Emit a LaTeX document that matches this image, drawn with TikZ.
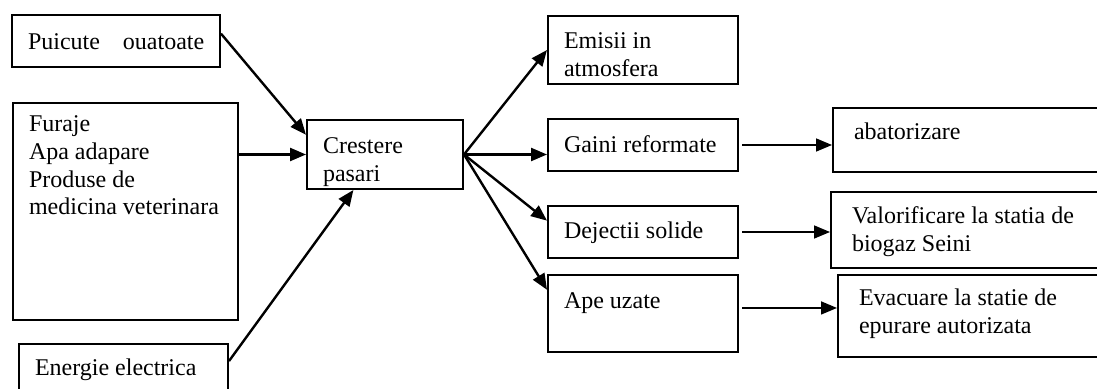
\documentclass[tikz,border=0pt]{standalone}
\usepackage{fontspec}
\setmainfont{Liberation Serif}
\usetikzlibrary{arrows.meta,calc}
% text block of a box: [top pad]{width}{height}{text}
\newcommand{\boxtext}[4][6.8pt]{\parbox[t][#3][t]{#2}{\raggedright\vspace*{#1}\strut#4}}
\tikzset{
	box/.style={draw, line width=1pt, anchor=north west, inner xsep=8pt, inner ysep=0pt, font=\fontsize{12}{13.8}\selectfont},
	wide box/.style={box, inner xsep=10.5pt},
	flow/.style={line width=1.2pt, -{Triangle[length=8pt,width=6.5pt]}},
	thin flow/.style={line width=0.8pt, shorten <=1.5pt, -{Triangle[length=8pt,width=6.5pt]}}
}
\begin{document}
\begin{tikzpicture}[x=0.5pt, y=-0.5pt]
			\useasboundingbox (0,0) rectangle (1097,389);
			%%%%% START %%%%%
			
			% inputs
			\node[box] (puic) at (11,14) {\boxtext[7.8pt]{88pt}{26pt}{\mbox{Puicute\hspace{8.5pt} ouatoate}}};
			\node[box] (fur) at (12,102) {\boxtext[4.8pt]{96.5pt}{108.5pt}{Furaje\\Apa adapare\\Produse de\\medicina veterinara}};
			\node[box] (energ) at (18,343) {\boxtext[6.3pt]{88.5pt}{30pt}{Energie electrica}};
			
			% process
			\node[box] (crest) at (306,119) {\boxtext[7.3pt]{62pt}{34.5pt}{Crestere\\pasari}};
			
			% outputs
			\node[box] (emis) at (547,15) {\boxtext[6.8pt]{79pt}{34pt}{Emisii in\\atmosfera}};
			\node[box] (gaini) at (547,118) {\boxtext[7.3pt]{79pt}{26pt}{Gaini reformate}};
			\node[box] (dej) at (547,205) {\boxtext[6.8pt]{79pt}{26pt}{Dejectii solide}};
			\node[box] (ape) at (547,274) {\boxtext[7.3pt]{79pt}{38.5pt}{Ape uzate}};
			
			% destinations
			\node[wide box] (abat) at (832,107) {\boxtext[6.3pt]{124pt}{32pt}{abatorizare}};
			\node[wide box] (valor) at (830,191) {\boxtext[6.3pt]{124pt}{38pt}{Valorificare la statia de\\biogaz Seini}};
			\node[wide box] (evac) at (837,274) {\boxtext[5.8pt]{124pt}{41pt}{Evacuare la statie de\\epurare autorizata}};
			
			\coordinate (apeout) at ($(ape.north east)!0.43!(ape.south east)$);
			
			\draw[flow] (puic.4) -- (crest.166);
			\draw[flow] (fur.east |- crest.west) -- (crest.west);
			\draw[flow] (energ.7) -- ($(crest.south west)!0.3!(crest.south east)$);
			
			\draw[flow] (crest.east) -- (emis.west);
			\draw[flow] (crest.east) -- (gaini.west |- crest.east);
			\draw[flow] (crest.east) -- ($(dej.north west)!0.29!(dej.south west)$);
			\draw[flow] (crest.east) -- ($(ape.north west)!0.2!(ape.south west)$);
			
			\draw[thin flow] (gaini.east) -- (gaini.east -| abat.west);
			\draw[thin flow] (dej.east) -- (dej.east -| valor.west);
			\draw[thin flow] (apeout) -- (apeout -| evac.west);
			
			%%%%% END %%%%%
\end{tikzpicture}
\end{document}
